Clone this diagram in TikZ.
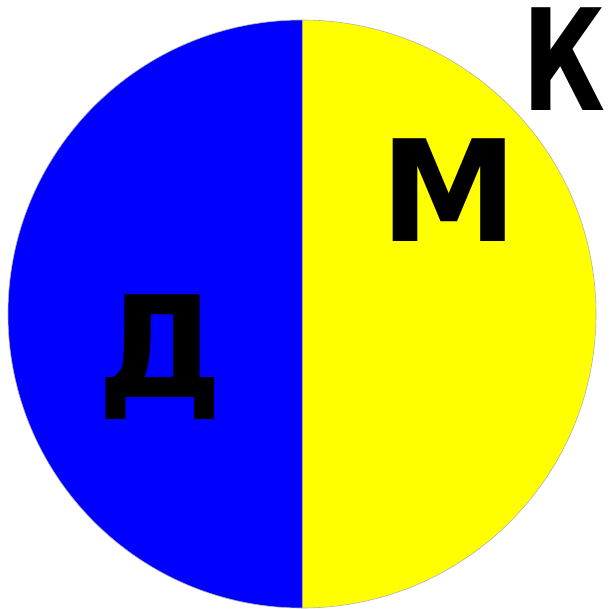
\documentclass[tikz,border=0pt]{standalone}
\usepackage{fontspec}
\newfontfamily\letterfont{DejaVu Sans}
\usepackage{tikz}
\definecolor{halfblue}{RGB}{0,0,255}
\definecolor{halfyellow}{RGB}{255,255,0}
\tikzset{
  letter/.style={inner sep=0pt,anchor=base,font=\letterfont\bfseries\fontsize{141}{141}\selectfont,text=black}
}
\begin{document}
\begin{tikzpicture}[x=1pt,y=-1pt]
\useasboundingbox (0,0) rectangle (608,609);
% two halves of the disc
\fill[halfblue] (302,20) arc[start angle=-90,end angle=-270,radius=294] -- cycle;
\fill[halfyellow] (302,20) arc[start angle=-90,end angle=90,radius=294] -- cycle;
\draw[gray!60,line width=0.6pt] (302,314) circle[radius=294];
\draw[gray!70,line width=0.6pt] (302,20) -- (302,608);
% letters
\node[letter] (d) at (160,397) {Д};
\node[letter,xscale=0.98] (m) at (449,241) {М};
\node[letter,xscale=0.72] (k) at (564,111) {К};
\end{tikzpicture}
\end{document}
